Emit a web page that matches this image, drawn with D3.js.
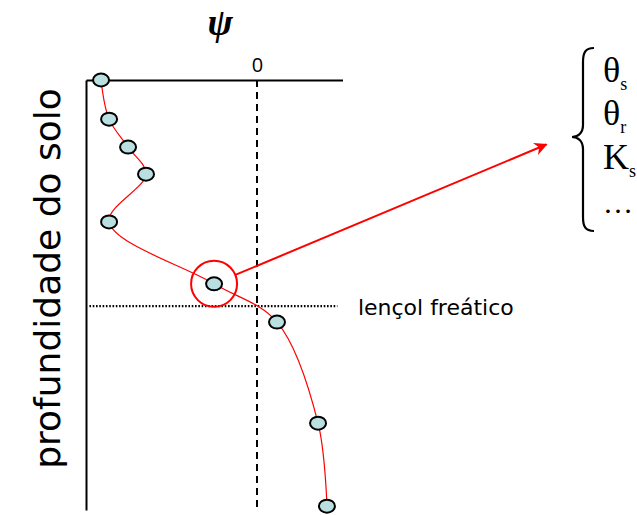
<!DOCTYPE html>
<html lang="pt">
<head>
  <meta charset="UTF-8" />
  <title>Perfil de potencial matricial</title>
  <script src="https://d3js.org/d3.v7.min.js"></script>
  <style>
    body { margin: 0; background: #fff; }
    svg { display: block; }
  </style>
</head>
<body>
  <svg id="chart"></svg>
  <script>
    // potencial matricial (psi, relativo) e profundidade (0-100) dos pontos
    const psi   = [-0.912, -0.865, -0.754, -0.649, -0.865, -0.251, 0.117, 0.357, 0.409];
    const depth = [0, 9.1, 15.6, 21.9, 33.0, 47.4, 56.3, 79.8, 99.1];
    const psiTicks = [0];
    const waterTable = 52.6;      // profundidade do lençol freático
    const highlighted = 5;        // ponto destacado
    const params = ["θ", "θ", "K", "…"];
    const paramSubs = ["s", "r", "s", ""];

    const W = 637, H = 515;
    const svg = d3.select("#chart").attr("width", W).attr("height", H);

    const x = d3.scaleLinear().domain([-1, 0.5]).range([86, 342.5]);
    const y = d3.scaleLinear().domain([0, 100]).range([80, 510]);

    const data = psi.map((p, i) => ({ psi: p, depth: depth[i] }));

    // eixo vertical (profundidade)
    const yAxis = svg.append("g")
      .attr("transform", `translate(${x(-1)},0)`)
      .call(d3.axisLeft(y).tickValues([]).tickSizeOuter(0));
    yAxis.select(".domain").attr("stroke", "#000").attr("stroke-width", 2);

    // eixo horizontal (psi) no topo
    const xAxis = svg.append("g")
      .attr("transform", `translate(0,${y(0)})`)
      .call(d3.axisTop(x).tickValues(psiTicks).tickFormat(d3.format("d"))
        .tickSize(0).tickSizeOuter(0).tickPadding(8));
    xAxis.select(".domain").attr("stroke", "#000").attr("stroke-width", 2);
    xAxis.selectAll("text")
      .attr("font-family", "'Open Sans', 'Liberation Sans', sans-serif")
      .attr("font-size", 20)
      .attr("fill", "#000");

    // linha tracejada em psi = 0
    svg.append("line")
      .attr("x1", x(0)).attr("x2", x(0))
      .attr("y1", y(0)).attr("y2", y(99.5))
      .attr("stroke", "#000")
      .attr("stroke-width", 2)
      .attr("stroke-dasharray", "7,5");

    // lençol freático
    svg.append("line")
      .attr("x1", x(-0.98)).attr("x2", x(0.47))
      .attr("y1", y(waterTable)).attr("y2", y(waterTable))
      .attr("stroke", "#000")
      .attr("stroke-width", 2.2)
      .attr("stroke-dasharray", "1.6,1.7");

    svg.append("text")
      .attr("x", x(0.59))
      .attr("y", y(waterTable) + 9)
      .attr("font-family", "'DejaVu Sans', sans-serif")
      .attr("font-size", 22)
      .text("lençol freático");

    // curva
    const line = d3.line()
      .x(d => x(d.psi))
      .y(d => y(d.depth))
      .curve(d3.curveCatmullRom.alpha(0.5));

    svg.append("path")
      .datum(data)
      .attr("fill", "none")
      .attr("stroke", "#ff0000")
      .attr("stroke-width", 1.2)
      .attr("d", line);

    // pontos
    svg.selectAll("ellipse.pt")
      .data(data)
      .join("ellipse")
      .attr("class", "pt")
      .attr("cx", d => x(d.psi))
      .attr("cy", d => y(d.depth))
      .attr("rx", 8)
      .attr("ry", 6.5)
      .attr("fill", "#b9dfe0")
      .attr("stroke", "#000")
      .attr("stroke-width", 2);

    // destaque + seta
    const hx = x(psi[highlighted]), hy = y(depth[highlighted]);
    const r = 23;
    svg.append("circle")
      .attr("cx", hx).attr("cy", hy).attr("r", r)
      .attr("fill", "none")
      .attr("stroke", "#ff0000")
      .attr("stroke-width", 2);

    svg.append("defs").append("marker")
      .attr("id", "arrow")
      .attr("viewBox", "0 0 10 10")
      .attr("refX", 9).attr("refY", 5)
      .attr("markerWidth", 14).attr("markerHeight", 13)
      .attr("markerUnits", "userSpaceOnUse")
      .attr("orient", "auto")
      .append("path")
      .attr("d", "M0,0 L10,5 L0,10 L3,5 Z")
      .attr("fill", "#ff0000");

    const braceX = 572, braceTop = 48, braceBot = 231, braceMid = 137;
    const tipX = braceX - 22, tipY = 143;
    const ang = Math.atan2(tipY - hy, tipX - hx);
    svg.append("line")
      .attr("x1", hx + r * Math.cos(ang)).attr("y1", hy + r * Math.sin(ang))
      .attr("x2", tipX - 4 * Math.cos(ang)).attr("y2", tipY - 4 * Math.sin(ang))
      .attr("stroke", "#ff0000")
      .attr("stroke-width", 2)
      .attr("marker-end", "url(#arrow)");

    // chave
    const bx = braceX + 11;
    svg.append("path")
      .attr("d", `M${bx + 11},${braceTop} C${bx + 2},${braceTop} ${bx},${braceTop + 5} ${bx},${braceTop + 14}
                  L${bx},${braceMid - 12} C${bx},${braceMid - 4} ${bx - 5},${braceMid} ${braceX},${braceMid}
                  C${bx - 5},${braceMid} ${bx},${braceMid + 4} ${bx},${braceMid + 12}
                  L${bx},${braceBot - 14} C${bx},${braceBot - 5} ${bx + 2},${braceBot} ${bx + 11},${braceBot}`)
      .attr("fill", "none")
      .attr("stroke", "#000")
      .attr("stroke-width", 2.2);

    const pg = svg.append("g")
      .attr("font-family", "'Liberation Serif', 'Times New Roman', serif");
    const baselines = [82, 125, 169, 213];
    params.forEach((p, i) => {
      const t = pg.append("text")
        .attr("x", 603)
        .attr("y", baselines[i])
        .attr("font-size", i === 3 ? 30 : 36)
        .text(p);
      if (paramSubs[i]) {
        t.append("tspan")
          .attr("font-size", 18)
          .attr("dy", 8)
          .text(paramSubs[i]);
      }
    });

    // títulos
    svg.append("text")
      .attr("x", x(-0.215))
      .attr("y", 35)
      .attr("text-anchor", "middle")
      .attr("font-family", "'Liberation Serif', serif")
      .attr("font-style", "italic")
      .attr("font-weight", "bold")
      .attr("font-size", 38)
      .text("ψ");

    svg.append("text")
      .attr("transform", `translate(60,${(85 + 472) / 2}) rotate(-90)`)
      .attr("text-anchor", "middle")
      .attr("font-family", "'DejaVu Sans', sans-serif")
      .attr("font-size", 36)
      .text("profundidade do solo");
  </script>
</body>
</html>
